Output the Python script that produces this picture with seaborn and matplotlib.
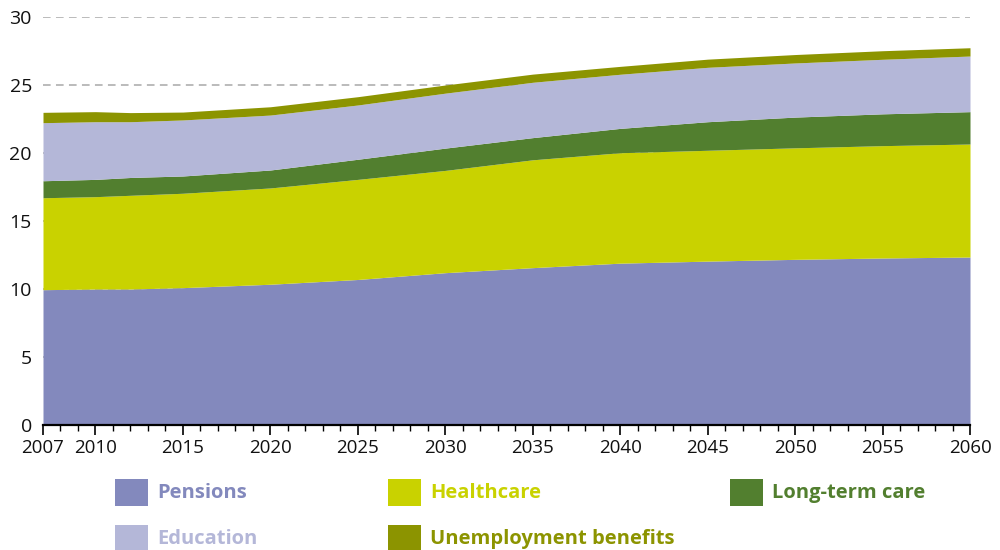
import matplotlib
matplotlib.use("Agg")
import matplotlib.pyplot as plt
from matplotlib.patches import Rectangle
from matplotlib.ticker import MultipleLocator, FixedLocator
import seaborn as sns
import pandas as pd

years = [2007, 2010, 2012, 2015, 2020, 2025, 2030, 2035, 2040, 2045, 2050, 2055, 2060]
pensions = [9.95, 10.0, 10.0, 10.1, 10.35, 10.7, 11.2, 11.57, 11.9, 12.05, 12.18, 12.28, 12.35]
healthcare = [6.76, 6.79, 6.89, 6.94, 7.08, 7.36, 7.52, 7.93, 8.12, 8.15, 8.20, 8.26, 8.31]
long_term_care = [1.25, 1.27, 1.31, 1.27, 1.32, 1.48, 1.64, 1.63, 1.79, 2.10, 2.26, 2.34, 2.38]
education = [4.27, 4.24, 4.10, 4.12, 4.04, 3.99, 4.04, 4.07, 3.98, 4.00, 3.98, 4.01, 4.09]
unemployment = [0.76, 0.74, 0.67, 0.58, 0.61, 0.61, 0.60, 0.60, 0.58, 0.60, 0.62, 0.63, 0.61]

series_names = ["Pensions", "Healthcare", "Long-term care", "Education", "Unemployment benefits"]
colors = ["#8389BD", "#C9D200", "#527F2F", "#B4B7D8", "#8C9400"]
xtick_labels = [2007, 2010, 2015, 2020, 2025, 2030, 2035, 2040, 2045, 2050, 2055, 2060]
ytick_values = [0, 5, 10, 15, 20, 25, 30]

df = pd.DataFrame({"year": years, "Pensions": pensions, "Healthcare": healthcare,
                   "Long-term care": long_term_care, "Education": education,
                   "Unemployment benefits": unemployment})

sns.set_theme(style="white")
plt.rcParams["font.family"] = ["Open Sans", "DejaVu Sans"]

fig = plt.figure(figsize=(10, 5.5), dpi=100)
ax = fig.add_axes([0.043, 1 - 425 / 550, 0.970 - 0.043, (425 - 17) / 550])

ax.stackplot(df["year"], [df[n] for n in series_names], colors=colors,
             linewidth=0, zorder=2)

ax.set_xlim(2007, 2060)
ax.set_ylim(0, 30)
ax.yaxis.set_major_locator(FixedLocator(ytick_values))
ax.xaxis.set_major_locator(FixedLocator(xtick_labels))
ax.xaxis.set_minor_locator(MultipleLocator(1))
ax.set_xticklabels([str(v) for v in xtick_labels], fontsize=13.5, color="#111111")
ax.set_yticklabels([str(v) for v in ytick_values], fontsize=14, color="#111111")

for y in ytick_values[1:]:
    ax.axhline(y, color="#a8a8a8", linewidth=1.1, linestyle=(0, (5, 3.5)), zorder=1)

for s in ["top", "right", "left"]:
    ax.spines[s].set_visible(False)
ax.spines["bottom"].set_color("black")
ax.spines["bottom"].set_linewidth(1.6)
ax.spines["bottom"].set_zorder(3)

ax.tick_params(axis="x", which="major", direction="out", length=7, width=1.2,
               color="black", pad=3, bottom=True)
ax.tick_params(axis="x", which="minor", direction="out", length=4, width=1.0,
               color="black", bottom=True)
ax.tick_params(axis="y", which="both", length=0, pad=8)
ax.grid(False)

# legend (manual layout, two rows)
legend_pos = [(115, 479), (388, 479), (730, 479), (115, 525), (388, 525)]
W, H = 1000, 550
for (px, py), name, col in zip(legend_pos, series_names, colors):
    fig.add_artist(Rectangle((px / W, 1 - (py + 27) / H), 33 / W, 27 / H,
                             transform=fig.transFigure, facecolor=col,
                             edgecolor="none"))
    fig.text((px + 42) / W, 1 - (py + 14) / H, name, color=col, fontsize=14.5,
             fontweight="bold", va="center", ha="left")

fig.savefig("out.png", dpi=100)
